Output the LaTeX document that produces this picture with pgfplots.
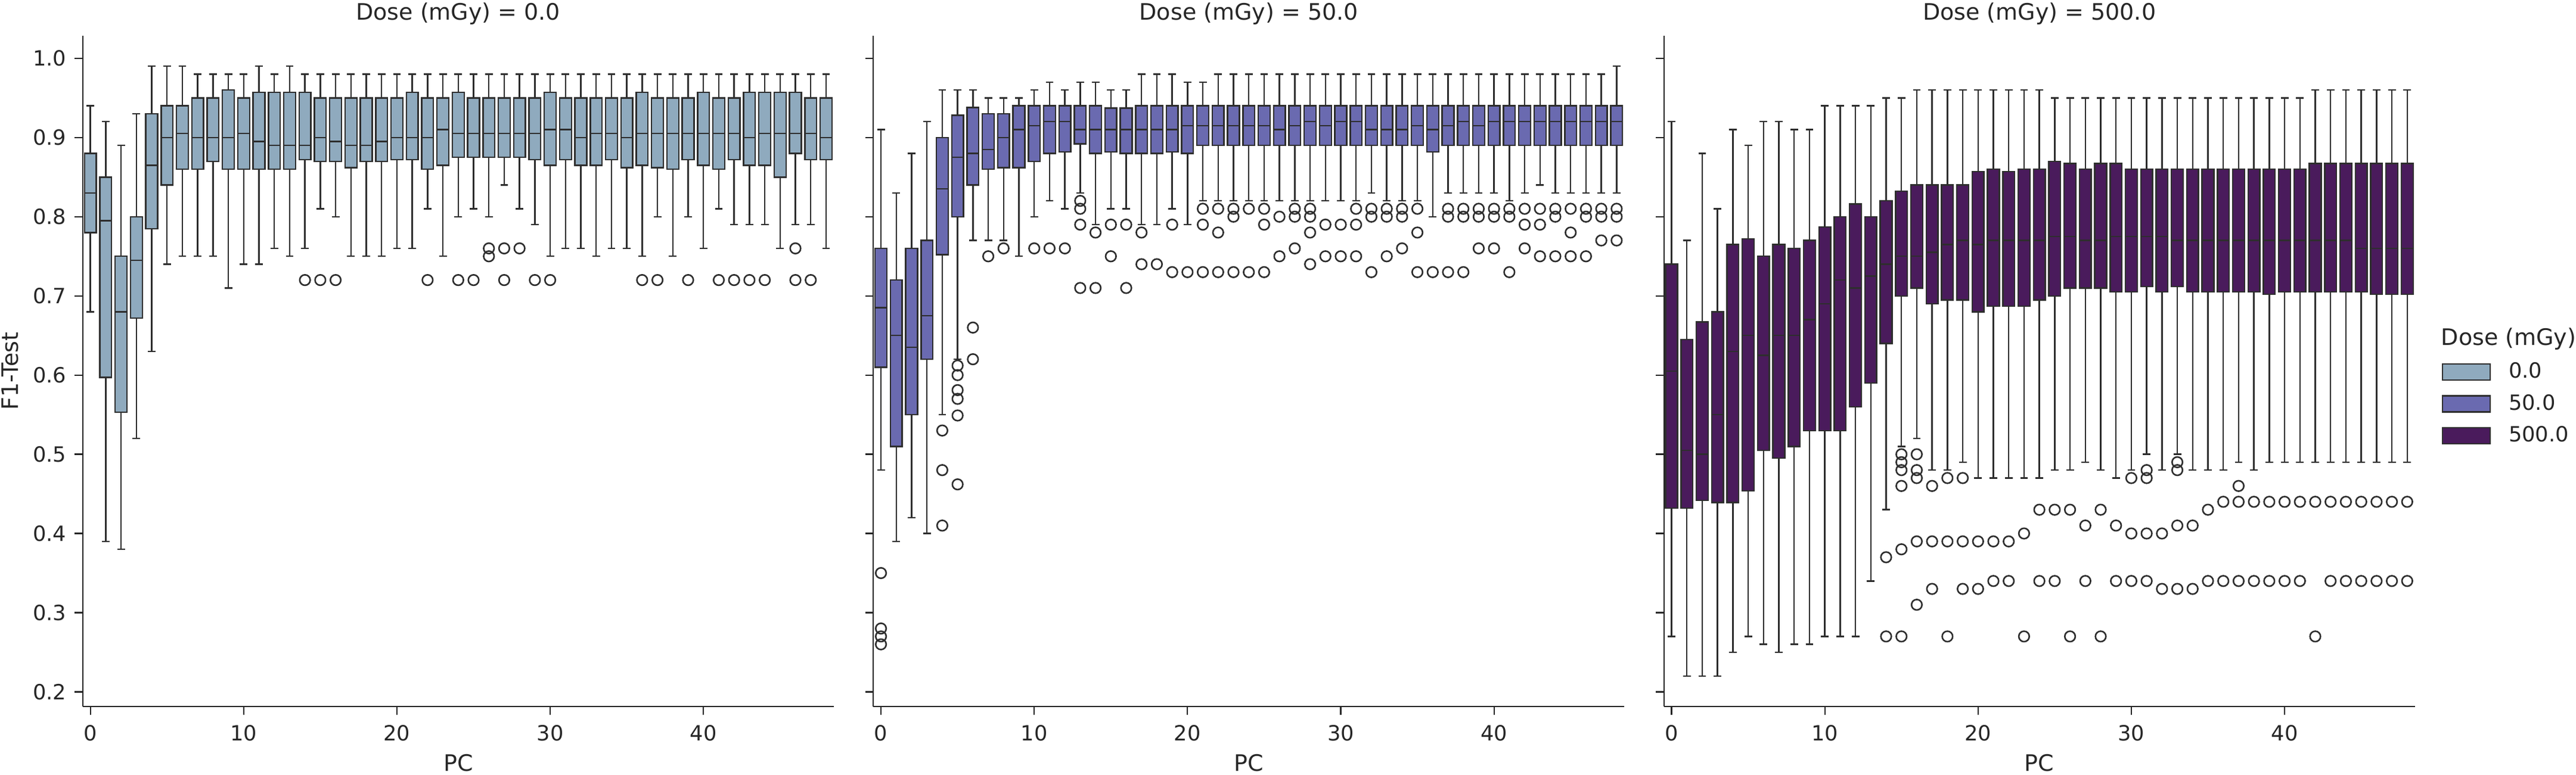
\documentclass[border=0pt]{standalone}
\usepackage{pgfplots}
\pgfplotsset{compat=1.18}
\usepackage{pgfplotstable}
\usepgfplotslibrary{statistics}
\usepackage{fontspec}
\setmainfont{DejaVu Sans}

\definecolor{cA}{HTML}{8FAABE}
\definecolor{cB}{HTML}{6A6AB0}
\definecolor{cC}{HTML}{4A1B5C}
\definecolor{edge}{HTML}{2E2E2E}
\definecolor{spine}{HTML}{262626}

% ---------- Dose 0.0 ----------
\pgfplotstableread{
pc lw lq med uq uw
0 0.68 0.78 0.83 0.88 0.94
1 0.39 0.597 0.795 0.85 0.92
2 0.38 0.553 0.68 0.75 0.89
3 0.52 0.672 0.745 0.80 0.93
4 0.63 0.785 0.865 0.93 0.99
5 0.74 0.84 0.90 0.94 0.99
6 0.75 0.86 0.905 0.94 0.99
7 0.75 0.86 0.90 0.95 0.98
8 0.75 0.87 0.90 0.95 0.98
9 0.71 0.86 0.90 0.96 0.98
10 0.74 0.86 0.905 0.95 0.98
11 0.74 0.86 0.895 0.957 0.99
12 0.76 0.86 0.89 0.957 0.98
13 0.75 0.86 0.89 0.957 0.99
14 0.76 0.872 0.89 0.957 0.98
15 0.81 0.87 0.90 0.95 0.98
16 0.80 0.87 0.895 0.95 0.98
17 0.75 0.862 0.89 0.95 0.98
18 0.75 0.87 0.89 0.95 0.98
19 0.75 0.87 0.895 0.95 0.98
20 0.76 0.872 0.90 0.95 0.98
21 0.76 0.872 0.90 0.957 0.98
22 0.81 0.86 0.90 0.95 0.98
23 0.75 0.865 0.91 0.95 0.98
24 0.80 0.875 0.905 0.957 0.98
25 0.81 0.875 0.905 0.95 0.98
26 0.80 0.875 0.905 0.95 0.98
27 0.84 0.875 0.905 0.95 0.98
28 0.81 0.875 0.905 0.95 0.98
29 0.79 0.872 0.905 0.95 0.98
30 0.75 0.865 0.91 0.957 0.98
31 0.76 0.872 0.91 0.95 0.98
32 0.76 0.865 0.90 0.95 0.98
33 0.75 0.865 0.905 0.95 0.98
34 0.76 0.872 0.905 0.95 0.98
35 0.76 0.862 0.90 0.95 0.98
36 0.75 0.865 0.905 0.957 0.98
37 0.80 0.862 0.905 0.95 0.98
38 0.75 0.86 0.905 0.95 0.98
39 0.80 0.872 0.905 0.95 0.98
40 0.76 0.865 0.905 0.957 0.98
41 0.81 0.86 0.905 0.95 0.98
42 0.79 0.872 0.905 0.95 0.98
43 0.79 0.865 0.90 0.957 0.98
44 0.79 0.865 0.905 0.957 0.98
45 0.76 0.85 0.905 0.957 0.98
46 0.79 0.88 0.905 0.957 0.98
47 0.79 0.872 0.905 0.95 0.98
48 0.76 0.872 0.90 0.95 0.98
}\tabA
\pgfplotstableread{
x y
14 0.72
15 0.72
16 0.72
22 0.72
24 0.72
25 0.72
26 0.76
26 0.75
27 0.76
27 0.72
28 0.76
29 0.72
30 0.72
36 0.72
37 0.72
39 0.72
41 0.72
42 0.72
43 0.72
44 0.72
46 0.76
46 0.72
47 0.72
}\outA

% ---------- Dose 50.0 ----------
\pgfplotstableread{
pc lw lq med uq uw
0 0.48 0.61 0.685 0.76 0.91
1 0.39 0.51 0.65 0.72 0.83
2 0.42 0.55 0.635 0.76 0.88
3 0.40 0.62 0.675 0.77 0.92
4 0.55 0.752 0.835 0.90 0.96
5 0.62 0.80 0.875 0.928 0.96
6 0.77 0.84 0.88 0.938 0.96
7 0.77 0.86 0.885 0.93 0.95
8 0.77 0.862 0.90 0.93 0.95
9 0.75 0.862 0.91 0.94 0.95
10 0.80 0.87 0.915 0.94 0.96
11 0.82 0.88 0.92 0.94 0.97
12 0.81 0.882 0.92 0.94 0.96
13 0.83 0.892 0.91 0.94 0.97
14 0.79 0.88 0.91 0.94 0.97
15 0.81 0.882 0.91 0.937 0.96
16 0.81 0.88 0.91 0.937 0.96
17 0.79 0.88 0.91 0.94 0.98
18 0.79 0.88 0.91 0.94 0.98
19 0.81 0.882 0.91 0.94 0.98
20 0.79 0.88 0.915 0.94 0.97
21 0.82 0.89 0.915 0.94 0.97
22 0.82 0.89 0.915 0.94 0.98
23 0.82 0.89 0.915 0.94 0.98
24 0.82 0.89 0.915 0.94 0.98
25 0.82 0.89 0.915 0.94 0.98
26 0.82 0.89 0.91 0.94 0.98
27 0.82 0.89 0.915 0.94 0.98
28 0.82 0.89 0.92 0.94 0.98
29 0.82 0.89 0.915 0.94 0.98
30 0.82 0.89 0.92 0.94 0.98
31 0.82 0.89 0.92 0.94 0.98
32 0.83 0.89 0.91 0.94 0.98
33 0.82 0.89 0.91 0.94 0.98
34 0.82 0.89 0.91 0.94 0.98
35 0.82 0.89 0.915 0.94 0.98
36 0.80 0.882 0.91 0.94 0.98
37 0.83 0.89 0.915 0.94 0.98
38 0.83 0.89 0.92 0.94 0.98
39 0.83 0.89 0.915 0.94 0.98
40 0.83 0.89 0.92 0.94 0.98
41 0.82 0.89 0.92 0.94 0.98
42 0.83 0.89 0.92 0.94 0.98
43 0.84 0.89 0.92 0.94 0.98
44 0.83 0.89 0.92 0.94 0.98
45 0.83 0.89 0.92 0.94 0.98
46 0.83 0.89 0.92 0.94 0.98
47 0.83 0.89 0.92 0.94 0.98
48 0.83 0.89 0.92 0.94 0.99
}\tabB
\pgfplotstableread{
x y
0 0.35
0 0.28
0 0.27
0 0.26
4 0.53
4 0.48
4 0.41
5 0.612
5 0.60
5 0.581
5 0.57
5 0.549
5 0.462
6 0.66
6 0.62
7 0.75
8 0.76
10 0.76
11 0.76
12 0.76
13 0.82
13 0.81
13 0.79
13 0.71
14 0.78
14 0.71
15 0.79
15 0.75
16 0.79
16 0.71
17 0.78
17 0.74
18 0.74
19 0.79
19 0.73
20 0.73
21 0.81
21 0.79
21 0.73
22 0.81
22 0.78
22 0.73
23 0.81
23 0.80
23 0.73
24 0.81
24 0.73
25 0.81
25 0.79
25 0.73
26 0.80
26 0.75
27 0.81
27 0.80
27 0.76
28 0.81
28 0.80
28 0.78
28 0.74
29 0.79
29 0.75
30 0.79
30 0.75
31 0.81
31 0.79
31 0.75
32 0.81
32 0.80
32 0.73
33 0.81
33 0.80
33 0.75
34 0.81
34 0.80
34 0.76
35 0.81
35 0.78
35 0.73
36 0.73
37 0.81
37 0.80
37 0.73
38 0.81
38 0.80
38 0.73
39 0.81
39 0.80
39 0.76
40 0.81
40 0.80
40 0.76
41 0.81
41 0.80
41 0.73
42 0.81
42 0.79
42 0.76
43 0.81
43 0.79
43 0.75
44 0.81
44 0.80
44 0.75
45 0.81
45 0.78
45 0.75
46 0.81
46 0.80
46 0.75
47 0.81
47 0.80
47 0.77
48 0.81
48 0.80
48 0.77
}\outB

% ---------- Dose 500.0 ----------
\pgfplotstableread{
pc lw lq med uq uw
0 0.27 0.432 0.605 0.74 0.92
1 0.22 0.432 0.505 0.645 0.77
2 0.22 0.442 0.50 0.667 0.88
3 0.22 0.439 0.55 0.68 0.81
4 0.25 0.439 0.63 0.765 0.91
5 0.27 0.454 0.65 0.772 0.89
6 0.26 0.505 0.625 0.75 0.92
7 0.25 0.495 0.65 0.765 0.92
8 0.26 0.51 0.65 0.76 0.91
9 0.26 0.53 0.67 0.77 0.91
10 0.27 0.53 0.69 0.787 0.94
11 0.27 0.53 0.72 0.80 0.94
12 0.27 0.56 0.71 0.816 0.94
13 0.34 0.59 0.725 0.80 0.94
14 0.43 0.64 0.74 0.82 0.95
15 0.51 0.70 0.75 0.832 0.95
16 0.52 0.71 0.75 0.84 0.96
17 0.48 0.69 0.755 0.84 0.96
18 0.48 0.695 0.765 0.84 0.96
19 0.49 0.695 0.77 0.84 0.96
20 0.47 0.68 0.765 0.857 0.96
21 0.47 0.687 0.77 0.86 0.96
22 0.47 0.687 0.77 0.857 0.96
23 0.47 0.687 0.77 0.86 0.96
24 0.47 0.695 0.77 0.86 0.96
25 0.48 0.70 0.775 0.87 0.95
26 0.48 0.71 0.775 0.867 0.95
27 0.49 0.71 0.77 0.86 0.95
28 0.48 0.71 0.77 0.867 0.95
29 0.47 0.705 0.775 0.867 0.95
30 0.48 0.705 0.775 0.86 0.95
31 0.50 0.712 0.775 0.86 0.95
32 0.48 0.705 0.775 0.86 0.95
33 0.50 0.712 0.77 0.86 0.95
34 0.48 0.705 0.77 0.86 0.95
35 0.48 0.705 0.77 0.86 0.95
36 0.48 0.705 0.77 0.86 0.95
37 0.49 0.705 0.77 0.86 0.95
38 0.48 0.705 0.77 0.86 0.95
39 0.49 0.702 0.77 0.86 0.95
40 0.49 0.705 0.77 0.86 0.95
41 0.49 0.705 0.77 0.86 0.95
42 0.49 0.705 0.77 0.867 0.96
43 0.49 0.705 0.77 0.867 0.96
44 0.49 0.705 0.77 0.867 0.96
45 0.49 0.705 0.76 0.867 0.96
46 0.49 0.702 0.76 0.867 0.96
47 0.49 0.702 0.76 0.867 0.96
48 0.49 0.702 0.76 0.867 0.96
}\tabC
\pgfplotstableread{
x y
14 0.37
14 0.27
15 0.50
15 0.49
15 0.48
15 0.46
15 0.38
15 0.27
16 0.50
16 0.48
16 0.47
16 0.39
16 0.31
17 0.46
17 0.39
17 0.33
18 0.47
18 0.39
18 0.27
19 0.47
19 0.39
19 0.33
20 0.39
20 0.33
21 0.39
21 0.34
22 0.39
22 0.34
23 0.40
23 0.27
24 0.43
24 0.34
25 0.43
25 0.34
26 0.43
26 0.27
27 0.41
27 0.34
28 0.43
28 0.27
29 0.41
29 0.34
30 0.47
30 0.40
30 0.34
31 0.48
31 0.47
31 0.40
31 0.34
32 0.40
32 0.33
33 0.49
33 0.48
33 0.41
33 0.33
34 0.41
34 0.33
35 0.43
35 0.34
36 0.44
36 0.34
37 0.46
37 0.44
37 0.34
38 0.44
38 0.34
39 0.44
39 0.34
40 0.44
40 0.34
41 0.44
41 0.34
42 0.44
42 0.27
43 0.44
43 0.34
44 0.44
44 0.34
45 0.44
45 0.34
46 0.44
46 0.34
47 0.44
47 0.34
48 0.44
48 0.34
}\outC

\newcommand{\lblfont}{\fontsize{9.5}{11}\selectfont}
\newcommand{\tckfont}{\fontsize{8.8}{10}\selectfont}

% draws box number #1 of table #2 with fill colour #3
\newcommand{\drawbox}[3]{%
  \pgfplotstablegetelem{#1}{lw}\of#2\let\bLW\pgfplotsretval
  \pgfplotstablegetelem{#1}{lq}\of#2\let\bLQ\pgfplotsretval
  \pgfplotstablegetelem{#1}{med}\of#2\let\bMD\pgfplotsretval
  \pgfplotstablegetelem{#1}{uq}\of#2\let\bUQ\pgfplotsretval
  \pgfplotstablegetelem{#1}{uw}\of#2\let\bUW\pgfplotsretval
  \edef\doplot{\noexpand\addplot[bx, fill=#3, forget plot,
    boxplot/draw direction=y,
    boxplot prepared={draw position=#1, lower whisker=\bLW,
      lower quartile=\bLQ, median=\bMD, upper quartile=\bUQ,
      upper whisker=\bUW}] coordinates {};}%
  \doplot
}

\pgfplotsset{
  every axis title shift=0pt,
  panel/.style={
    scale only axis, width=315pt, height=281.5pt,
    anchor=south west, clip=false,
    xmin=-0.5, xmax=48.5, ymin=0.1815, ymax=1.0285,
    axis lines*=left,
    axis line style={spine, line width=0.55pt},
    tick align=outside,
    tick style={spine, line width=0.55pt},
    major tick length=3.4pt,
    xtick={0,10,20,30,40},
    ytick={0.2,0.3,0.4,0.5,0.6,0.7,0.8,0.9,1.0},
    tick label style={font=\tckfont, text=spine},
    xticklabel style={yshift=-0.8pt},
    /pgf/number format/assume math mode=true,
    yticklabel style={/pgf/number format/.cd, fixed, fixed zerofill, precision=1},
    title style={font=\lblfont, text=spine, at={(axis description cs:0.5,1.0329)}, anchor=center, inner sep=0pt},
    xlabel={PC},
    xlabel style={font=\lblfont, text=spine, at={(axis description cs:0.5,-0.0844)}, anchor=center, inner sep=0pt},
    boxplot/draw direction=y,
    boxplot/box extend=0.77,
    boxplot/whisker extend=0.5,
  },
  bx/.style={line width=0.6pt, draw=edge, solid},
  outl/.style={only marks, mark=o, mark size=2.2pt, draw=edge,
    mark options={line width=0.65pt, draw=edge, solid, fill=none}},
  legbox/.style={legend image code/.code={\draw[##1] (0pt,-3.4pt) rectangle (20pt,3.4pt);}},
}

\begin{document}
\begin{tikzpicture}
\useasboundingbox (0,0) rectangle (1080.5pt,325pt);

% ---- panel 1 ----
\begin{axis}[panel, at={(34.7pt,28.5pt)},
  title={Dose (mGy) = 0.0},
  ylabel={F1-Test},
  ylabel style={font=\lblfont, text=spine, at={(axis description cs:-0.0967,0.5)}, anchor=center, inner sep=0pt}]
\pgfplotsinvokeforeach{0,...,48}{\drawbox{#1}{\tabA}{cA}}
\addplot[outl, forget plot] table[x=x, y=y] {\outA};
\end{axis}

% ---- panel 2 ----
\begin{axis}[panel, at={(366.3pt,28.5pt)},
  title={Dose (mGy) = 50.0},
  yticklabels={}]
\pgfplotsinvokeforeach{0,...,48}{\drawbox{#1}{\tabB}{cB}}
\addplot[outl, forget plot] table[x=x, y=y] {\outB};
\end{axis}

% ---- panel 3 ----
\begin{axis}[panel, at={(697.9pt,28.5pt)},
  title={Dose (mGy) = 500.0},
  yticklabels={},
  legend cell align=left,
  legend style={at={(axis description cs:1.0352,0.5135)}, anchor=north west,
    draw=none, fill=none, inner sep=0pt, row sep=5.3pt, column sep=7.5pt,
    font=\tckfont, text=spine, nodes={inner sep=0pt}}]
\addlegendimage{legbox, fill=cA, draw=edge, line width=0.6pt}
\addlegendentry{0.0}
\addlegendimage{legbox, fill=cB, draw=edge, line width=0.6pt}
\addlegendentry{50.0}
\addlegendimage{legbox, fill=cC, draw=edge, line width=0.6pt}
\addlegendentry{500.0}
\pgfplotsinvokeforeach{0,...,48}{\drawbox{#1}{\tabC}{cC}}
\addplot[outl, forget plot] table[x=x, y=y] {\outC};
\end{axis}

\node[anchor=west, inner sep=0pt, font=\lblfont, text=spine] at (1023.75pt,182.75pt) {Dose (mGy)};
\end{tikzpicture}
\end{document}
